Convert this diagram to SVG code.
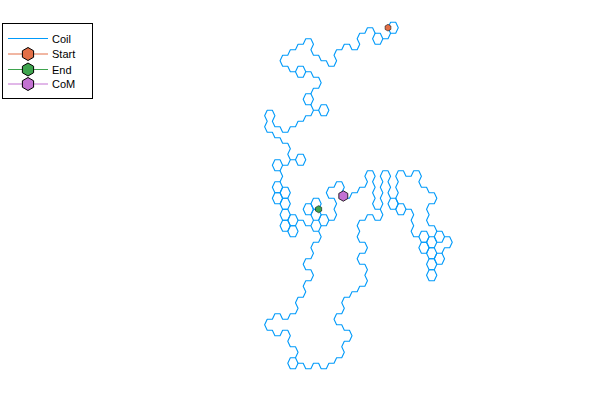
<svg xmlns="http://www.w3.org/2000/svg" width="600" height="400" viewBox="0 0 600 400">
<style>
.coil{fill:none;stroke:#009AFA;stroke-width:1.1;stroke-linejoin:round;stroke-linecap:round}
.lg{font-family:"Liberation Sans",Arial,sans-serif;font-size:11px;fill:#000}
.mk{stroke:#000;stroke-width:1}
</style>
<defs>
<polygon id="hexL" points="0,-6.5 5.6,-3.25 5.6,3.25 0,6.5 -5.6,3.25 -5.6,-3.25"/>
<path id="hx" d="M2,0 1,-1 -1,-1 -2,0 -1,1 1,1Z" vector-effect="non-scaling-stroke"/>
</defs>
<rect width="600" height="400" fill="#fff"/>
<g id="connectors" class="coil" transform="matrix(2.57 0 0 5.5 388 27.7)">
<path vector-effect="non-scaling-stroke" d="M1,1 0,2 -2,2
M-5,1 -6,0 -8,0 -9,1 -11,1 -12,2 -11,3 -12,4 -14,4 -15,3 -17,3 -18,4 -20,4 -21,5 -20,6 -21,7 -23,7 -24,6 -26,6 -27,5 -29,5 -30,4 -29,3 -30,2 -32,2 -33,3 -35,3 -36,4 -38,4 -39,5 -41,5 -42,6 -41,7 -39,7 -38,8 -36,8
M-32,8 -30,8 -29,9 -27,9 -26,10 -27,11 -29,11 -30,12
M-30,14 -29,15 -27,15
M-29,15 -30,16 -32,16 -33,17 -35,17 -36,18 -38,18 -39,19 -41,19 -42,18 -44,18 -45,17 -44,16 -45,15 -47,15 -48,16 -47,17 -48,18 -47,19 -45,19 -44,20 -42,20 -41,21 -39,21 -38,22 -39,23 -38,24 -36,24
M-38,24 -39,25 -41,25
M-42,26 -41,27 -42,28
M-35,35 -33,35 -32,36 -30,36 -29,37 -27,37 -26,38 -27,39 -29,39 -30,40 -29,41 -30,42 -32,42 -33,43 -32,44 -30,44 -29,45 -30,46 -32,46 -33,47 -32,48 -33,49 -35,49 -36,50 -35,51 -36,52 -38,52 -39,53 -41,53 -42,52 -44,52 -45,53 -47,53 -48,54 -47,55 -45,55 -44,56 -42,56 -41,55 -39,55 -38,56 -39,57 -38,58 -36,58 -35,59 -36,60
M-35,61 -33,61 -32,62 -30,62 -29,61 -27,61 -26,62 -24,62 -23,61 -21,61 -20,60 -18,60 -17,59 -18,58 -17,57 -15,57 -14,56 -15,55 -17,55 -18,54 -20,54 -21,53 -20,52 -18,52 -17,51 -18,50 -17,49 -15,49 -14,48 -12,48 -11,47 -9,47 -8,46 -9,45 -8,44 -9,43 -11,43 -12,42 -11,41 -9,41 -8,40 -9,39 -11,39 -12,38 -11,37 -12,36 -11,35 -9,35 -8,34 -6,34 -5,35 -3,35 -2,34 -3,33 -5,33 -6,32 -5,31 -6,30 -5,29 -6,28 -5,27 -6,26 -8,26 -9,27 -8,28 -9,29 -11,29 -12,30 -14,30 -15,31 -17,31 -18,30 -17,29 -18,28 -20,28 -21,29 -23,29 -24,30 -23,31 -21,31 -20,32 -21,33 -20,34 -21,35 -23,35
M-30,36 -29,35
M-27,37 -26,36
M-3,33 -2,32 -3,31 -2,30 -3,29 -2,28 -3,27 -2,26 0,26 1,27 0,28 1,29 0,30 1,31
M4,32 3,31 4,30 3,29 4,28 3,27 4,26 6,26 7,27 9,27 10,26 12,26 13,27 12,28 13,29 15,29 16,30 18,30 19,31 18,32 16,32 15,33 16,34 15,35 16,36 18,36 19,37
M7,33 9,33 10,34 9,35 10,36 9,37 10,38 12,38
M22,38 24,38 25,39 24,40 22,40 21,41"/>
<use href="#hx" x="2" y="0"/>
<use href="#hx" x="-4" y="2"/>
<use href="#hx" x="-34" y="8"/>
<use href="#hx" x="-31" y="13"/>
<use href="#hx" x="-25" y="15"/>
<use href="#hx" x="-34" y="24"/>
<use href="#hx" x="-43" y="25"/>
<use href="#hx" x="-43" y="29"/>
<use href="#hx" x="-40" y="30"/>
<use href="#hx" x="-43" y="31"/>
<use href="#hx" x="-40" y="32"/>
<use href="#hx" x="-40" y="34"/>
<use href="#hx" x="-37" y="35"/>
<use href="#hx" x="-40" y="36"/>
<use href="#hx" x="-37" y="37"/>
<use href="#hx" x="-37" y="61"/>
<use href="#hx" x="-31" y="33"/>
<use href="#hx" x="-28" y="32"/>
<use href="#hx" x="-28" y="34"/>
<use href="#hx" x="-25" y="35"/>
<use href="#hx" x="2" y="32"/>
<use href="#hx" x="5" y="33"/>
<use href="#hx" x="14" y="38"/>
<use href="#hx" x="14" y="40"/>
<use href="#hx" x="17" y="39"/>
<use href="#hx" x="17" y="41"/>
<use href="#hx" x="17" y="43"/>
<use href="#hx" x="17" y="45"/>
<use href="#hx" x="20" y="38"/>
<use href="#hx" x="20" y="42"/>
</g>
<g id="start"><use href="#hexL" transform="translate(388,27.7) scale(0.52)" fill="#E36F47" class="mk"/></g>
<g id="end"><use href="#hexL" transform="translate(318.6,209.2) scale(0.55)" fill="#3EA44E" class="mk"/></g>
<g id="com"><use href="#hexL" transform="translate(343.3,196) scale(0.8)" fill="#C371D2" class="mk"/></g>
<g id="legend">
<rect x="2.5" y="23.5" width="90" height="75" fill="#fff" stroke="#000" stroke-width="1"/>
<line x1="8" y1="38.5" x2="48" y2="38.5" stroke="#009AFA" stroke-width="1"/>
<text class="lg" x="52" y="42.5">Coil</text>
<line x1="8" y1="54" x2="48" y2="54" stroke="#E36F47" stroke-width="1"/>
<use href="#hexL" x="28" y="54" fill="#E36F47" class="mk"/>
<text class="lg" x="52" y="58">Start</text>
<line x1="8" y1="69.5" x2="48" y2="69.5" stroke="#3EA44E" stroke-width="1"/>
<use href="#hexL" x="28" y="69.5" fill="#3EA44E" class="mk"/>
<text class="lg" x="52" y="73.5">End</text>
<line x1="8" y1="84" x2="48" y2="84" stroke="#C371D2" stroke-width="1"/>
<use href="#hexL" x="28" y="84" fill="#C371D2" class="mk"/>
<text class="lg" x="52" y="88">CoM</text>
</g>
</svg>
